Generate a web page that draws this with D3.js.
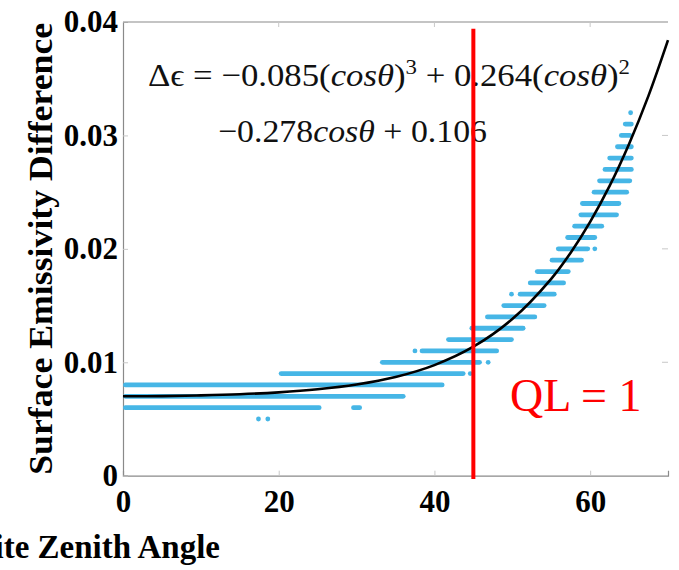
<!DOCTYPE html>
<html>
<head>
<meta charset="utf-8">
<script src="https://cdn.jsdelivr.net/npm/d3@7"></script>
<style>
  body { margin: 0; background: #fff; }
  svg { display: block; }
</style>
</head>
<body>
<svg id="canvas"></svg>
<script>
// observed rows: level (emissivity diff), start angle, end angle
let segLevel = [0.005, 0.005, 0.006, 0.006, 0.007, 0.008, 0.009, 0.009, 0.010, 0.010,
  0.011, 0.011, 0.012, 0.013, 0.014, 0.015, 0.016, 0.016, 0.017, 0.018, 0.019, 0.020, 0.020,
  0.021, 0.022, 0.023, 0.024, 0.025, 0.026, 0.027, 0.028, 0.029, 0.030, 0.031, 0.032];
let segFrom = [17.4, 18.6, 0, 29.3, 0, 0, 20.0, 44.6, 33.0, 46.9,
  37.5, 38.1, 41.5, 44.5, 46.5, 48.6, 49.9, 50.7, 52.0, 52.9, 54.8, 55.6, 60.6,
  56.8, 57.7, 58.5, 58.7, 60.2, 60.9, 61.6, 62.2, 63.2, 63.7, 64.2, 65.2];
let segTo = [17.4, 18.6, 25.5, 30.7, 36.3, 41.3, 44.0, 44.6, 46.1, 46.9,
  37.5, 48.3, 50.2, 51.7, 53.2, 54.4, 49.9, 55.7, 56.9, 57.5, 59.2, 60.0, 60.6,
  60.9, 61.8, 63.7, 64.0, 65.0, 65.4, 65.6, 65.6, 65.6, 65.4, 65.6, 65.2];

// fitted curve
let fitAngle = [0, 5, 10, 15, 20, 25, 30, 35, 40, 45, 50, 55, 57.5, 60, 62.5, 65, 67.5, 70];
let fitValue = [0.0070, 0.00702, 0.00708, 0.00718, 0.00735, 0.00762, 0.00804, 0.0087,
  0.00975, 0.01137, 0.01381, 0.01736, 0.01966, 0.02238, 0.02555, 0.02925, 0.03351, 0.0384];

let xTicks = [0, 20, 40, 60];
let yTicks = [0, 0.01, 0.02, 0.03, 0.04];
let qlAngle = 45;

let width = 679;
let height = 570;
let padLeft = 123;
let padRight = 668;
let padTop = 22;
let padBottom = 475.7;

let canvas = d3.select("#canvas").attr("width", width).attr("height", height);

let xScale = d3.scaleLinear().domain([0, 70]).range([padLeft, padRight]);
let yScale = d3.scaleLinear().domain([0, 0.04]).range([padBottom, padTop]);

let serif = "'Liberation Serif', 'Times New Roman', serif";

// axes
let xAxis = d3.axisBottom(xScale).tickValues(xTicks).tickSize(-5).tickPadding(14)
  .tickFormat(d3.format("d"));
let yAxis = d3.axisLeft(yScale).tickValues(yTicks).tickSize(-5).tickPadding(5)
  .tickFormat((d) => (d === 0 ? "0" : d3.format(".2f")(d)));

let gx = canvas.append("g").attr("transform", "translate(0," + padBottom + ")").call(xAxis);
let gy = canvas.append("g").attr("transform", "translate(" + padLeft + ",0)").call(yAxis);

[gx, gy].forEach((g) => {
  g.select(".domain").attr("stroke", "#8a8a8a").attr("stroke-width", 1.2);
  g.selectAll(".tick line").attr("stroke", "#c8c8c8");
  g.selectAll(".tick text")
    .attr("font-family", serif)
    .attr("font-weight", "bold")
    .attr("font-size", 31)
    .attr("fill", "#000");
});

// top frame line with ticks, right ticks
canvas.append("line")
  .attr("x1", padLeft).attr("x2", padRight).attr("y1", padTop).attr("y2", padTop)
  .attr("stroke", "#8a8a8a").attr("stroke-width", 1.2);
canvas.selectAll(".ttick").data(xTicks.slice(1)).enter().append("line")
  .attr("x1", (d) => xScale(d)).attr("x2", (d) => xScale(d))
  .attr("y1", padTop).attr("y2", padTop + 5)
  .attr("stroke", "#c8c8c8");
canvas.selectAll(".rtick").data(yTicks.slice(1, 4)).enter().append("line")
  .attr("x1", padRight - 6).attr("x2", padRight)
  .attr("y1", (d) => yScale(d)).attr("y2", (d) => yScale(d))
  .attr("stroke", "#c8c8c8");

// data rows
let blue = "#46b6e6";
let sw = 4.8;
let segs = segLevel.map((v, i) => ({ v: v, a: segFrom[i], b: segTo[i] }));
canvas.append("g").selectAll("line").data(segs).enter().append("line")
  .attr("x1", (d) => Math.min(xScale(d.a) + sw / 2, xScale(d.b)))
  .attr("x2", (d) => Math.max(xScale(d.b) - sw / 2, xScale(d.a)))
  .attr("y1", (d) => yScale(d.v))
  .attr("y2", (d) => yScale(d.v))
  .attr("stroke", blue)
  .attr("stroke-width", sw)
  .attr("stroke-linecap", "round");

// fitted curve
let line = d3.line()
  .x((d) => xScale(d[0]))
  .y((d) => yScale(d[1]))
  .curve(d3.curveCatmullRom);
canvas.append("path")
  .datum(fitAngle.map((a, i) => [a, fitValue[i]]))
  .attr("d", line)
  .attr("fill", "none")
  .attr("stroke", "#000")
  .attr("stroke-width", 2.6);

// equation
let eq1 = canvas.append("text").attr("x", 148).attr("y", 86)
  .attr("font-family", serif).attr("font-size", 32).attr("fill", "#111")
  .attr("textLength", 482).attr("lengthAdjust", "spacingAndGlyphs");
eq1.append("tspan").text("Δϵ = −0.085(");
eq1.append("tspan").attr("font-style", "italic").text("cosθ");
eq1.append("tspan").text(")");
eq1.append("tspan").attr("font-size", 21).attr("dy", -12).text("3");
eq1.append("tspan").attr("dy", 12).text(" + 0.264(");
eq1.append("tspan").attr("font-style", "italic").text("cosθ");
eq1.append("tspan").text(")");
eq1.append("tspan").attr("font-size", 21).attr("dy", -12).text("2");

let eq2 = canvas.append("text").attr("x", 218).attr("y", 142)
  .attr("font-family", serif).attr("font-size", 32).attr("fill", "#111")
  .attr("textLength", 269).attr("lengthAdjust", "spacingAndGlyphs");
eq2.append("tspan").text("−0.278");
eq2.append("tspan").attr("font-style", "italic").text("cosθ");
eq2.append("tspan").text(" + 0.106");

// QL = 1 marker
canvas.append("line")
  .attr("x1", xScale(qlAngle)).attr("x2", xScale(qlAngle))
  .attr("y1", yScale(0.0394)).attr("y2", yScale(-0.0003))
  .attr("stroke", "#ff0000")
  .attr("stroke-width", 4);
canvas.append("text")
  .attr("x", 510).attr("y", 410.5)
  .attr("font-family", serif).attr("font-size", 46).attr("fill", "#ff0000")
  .text("QL = 1");

// axis titles
canvas.append("text")
  .attr("transform", "translate(52," + (padTop + padBottom) / 2 + ") rotate(-90)")
  .attr("text-anchor", "middle")
  .attr("font-family", serif).attr("font-weight", "bold").attr("font-size", 34)
  .attr("textLength", 452).attr("lengthAdjust", "spacingAndGlyphs")
  .text("Surface Emissivity Difference");
canvas.append("text")
  .attr("x", 220).attr("y", 558)
  .attr("text-anchor", "end")
  .attr("font-family", serif).attr("font-weight", "bold").attr("font-size", 33)
  .text("Satellite Zenith Angle");
</script>
</body>
</html>
